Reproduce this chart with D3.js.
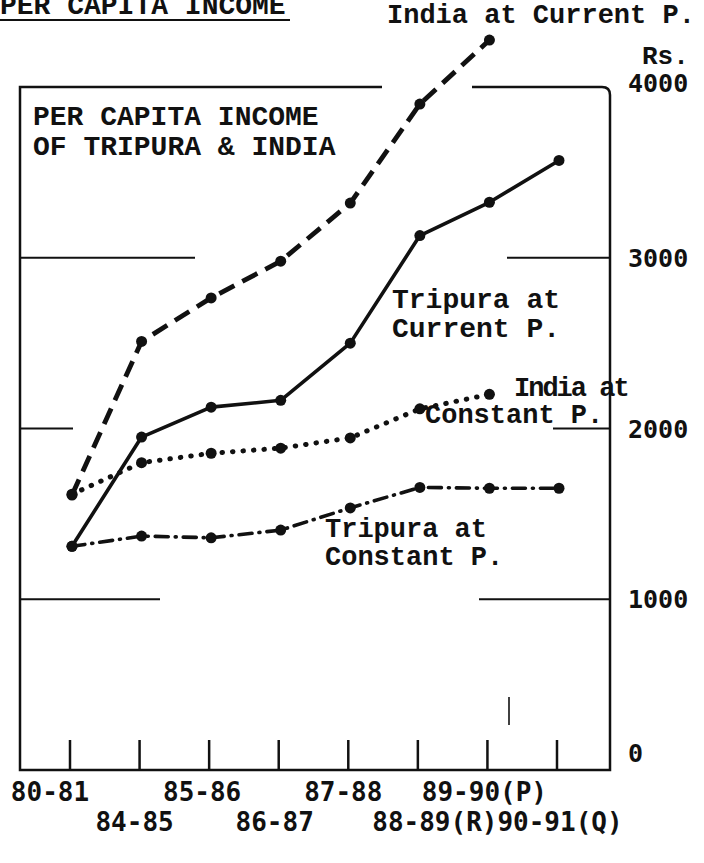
<!DOCTYPE html>
<html>
<head>
<meta charset="utf-8">
<script src="https://d3js.org/d3.v7.min.js"></script>
<style>
html, body { margin: 0; padding: 0; background: #fff; }
svg { display: block; }
.type { font-family: "Liberation Mono", "DejaVu Sans Mono", monospace; font-weight: bold; fill: #111; }
.num { font-family: "DejaVu Sans Mono", monospace; font-weight: bold; fill: #111; }
</style>
</head>
<body>
<script>
// years on the x axis
const years = ["80-81", "84-85", "85-86", "86-87", "87-88", "88-89(R)", "89-90(P)", "90-91(Q)"];

// per capita income, Rs.
const indiaCurrent = [1610, 2510, 2765, 2980, 3320, 3900, 4275];
const tripuraCurrent = [1310, 1950, 2125, 2165, 2500, 3130, 3325, 3570];
const indiaConstant = [1615, 1800, 1855, 1885, 1945, 2115, 2200];
const tripuraConstant = [1310, 1370, 1360, 1405, 1535, 1655, 1650, 1650];

const yTicks = [0, 1000, 2000, 3000, 4000];

const W = 704, H = 863;
const frame = { left: 20, right: 610 };

const svg = d3.select("body").append("svg")
    .attr("width", W).attr("height", H);

const x = d3.scalePoint().domain(years).range([72, 559]);
const y = d3.scaleLinear().domain([0, 4000]).range([770, 87]);

const ink = "#111";

// broken horizontal rules, as typed on the original sheet
const gridSpans = {
    1000: [[20, 160], [479, 610]],
    2000: [[20, 73], [553, 610]],
    3000: [[20, 195], [507, 610]]
};

Object.keys(gridSpans).forEach(function (v) {
    gridSpans[v].forEach(function (s) {
        svg.append("line")
            .attr("x1", s[0]).attr("x2", s[1])
            .attr("y1", y(+v)).attr("y2", y(+v))
            .attr("stroke", ink).attr("stroke-width", 1.8);
    });
});

// frame, with a gap in the top edge where the India line climbs out
const yTop = y(4000), yBottom = y(0);
const p = d3.path();
p.moveTo(382, yTop);
p.lineTo(frame.left, yTop);
p.lineTo(frame.left, yBottom);
p.lineTo(frame.right, yBottom);
p.lineTo(frame.right, yTop + 8);
p.quadraticCurveTo(frame.right, yTop, frame.right - 8, yTop);
p.lineTo(472, yTop);
svg.append("path").attr("d", p.toString())
    .attr("fill", "none").attr("stroke", ink).attr("stroke-width", 2.5);

// x tick marks
svg.selectAll(".xtick").data(years).enter().append("line")
    .attr("class", "xtick")
    .attr("x1", d => x(d) - 2).attr("x2", d => x(d) - 2)
    .attr("y1", yBottom - 30).attr("y2", yBottom)
    .attr("stroke", ink).attr("stroke-width", 2.5);

// stray mark on the sheet
svg.append("line").attr("x1", 509).attr("x2", 509).attr("y1", 697).attr("y2", 725)
    .attr("stroke", ink).attr("stroke-width", 1.6);

// x labels, staggered in two rows
const labelDx = [-22, -7, -9, -6, -7, 15, -5, 1];
const labelRow = [0, 1, 0, 1, 0, 1, 0, 1];
svg.selectAll(".xlab").data(years).enter().append("text")
    .attr("class", "num xlab")
    .attr("x", (d, i) => x(d) + labelDx[i])
    .attr("y", (d, i) => labelRow[i] ? 831 : 801)
    .attr("text-anchor", "middle")
    .attr("font-size", 26)
    .text(d => d);

// y labels on the right
const yLabDy = { 0: -17, 4000: -4 };
svg.selectAll(".ylab").data(yTicks).enter().append("text")
    .attr("class", "num ylab")
    .attr("x", 628)
    .attr("y", d => y(d) + (yLabDy[d] || 0) + 9)
    .attr("font-size", 25)
    .text(d => d);

svg.append("text").attr("class", "type")
    .attr("x", 642).attr("y", 64).attr("font-size", 26).text("Rs.");

// series
const line = d3.line()
    .x((d, i) => x(years[i]))
    .y(d => y(d));

const series = [
    { values: indiaCurrent, width: 4.8, dash: "17 9", cap: "butt" },
    { values: tripuraCurrent, width: 3.6, dash: null, cap: "round" },
    { values: indiaConstant, width: 5, dash: "0.5 10", cap: "round" },
    { values: tripuraConstant, width: 3.6, dash: "13 7 1 7", cap: "round" }
];

series.forEach(function (s) {
    svg.append("path")
        .attr("d", line(s.values))
        .attr("fill", "none")
        .attr("stroke", ink)
        .attr("stroke-width", s.width)
        .attr("stroke-linecap", s.cap)
        .attr("stroke-linejoin", "round")
        .attr("stroke-dasharray", s.dash);

    svg.append("g").selectAll("circle").data(s.values).enter().append("circle")
        .attr("cx", (d, i) => x(years[i]))
        .attr("cy", d => y(d))
        .attr("r", 5.5)
        .attr("fill", ink);
});

// typed captions
function typed(str, tx, ty, size, extra) {
    const t = svg.append("text").attr("class", "type")
        .attr("x", tx).attr("y", ty).attr("font-size", size).text(str);
    if (extra) t.attr("letter-spacing", extra);
    return t;
}

typed("PER CAPITA INCOME", 0, 14, 28);
svg.append("line").attr("x1", 0).attr("x2", 290).attr("y1", 20).attr("y2", 20)
    .attr("stroke", ink).attr("stroke-width", 2.2);

typed("PER CAPITA INCOME", 33, 125, 28);
typed("OF TRIPURA & INDIA", 33, 155, 28);

typed("India at Current P.", 387, 23, 27);

typed("Tripura at", 392, 308, 28);
typed("Current P.", 392, 337, 28);

typed("India at", 514, 396, 27, -2);
typed("Constant P.", 425, 423, 27);

typed("Tripura at", 325, 537, 27);
typed("Constant P.", 325, 565, 27);
</script>
</body>
</html>
